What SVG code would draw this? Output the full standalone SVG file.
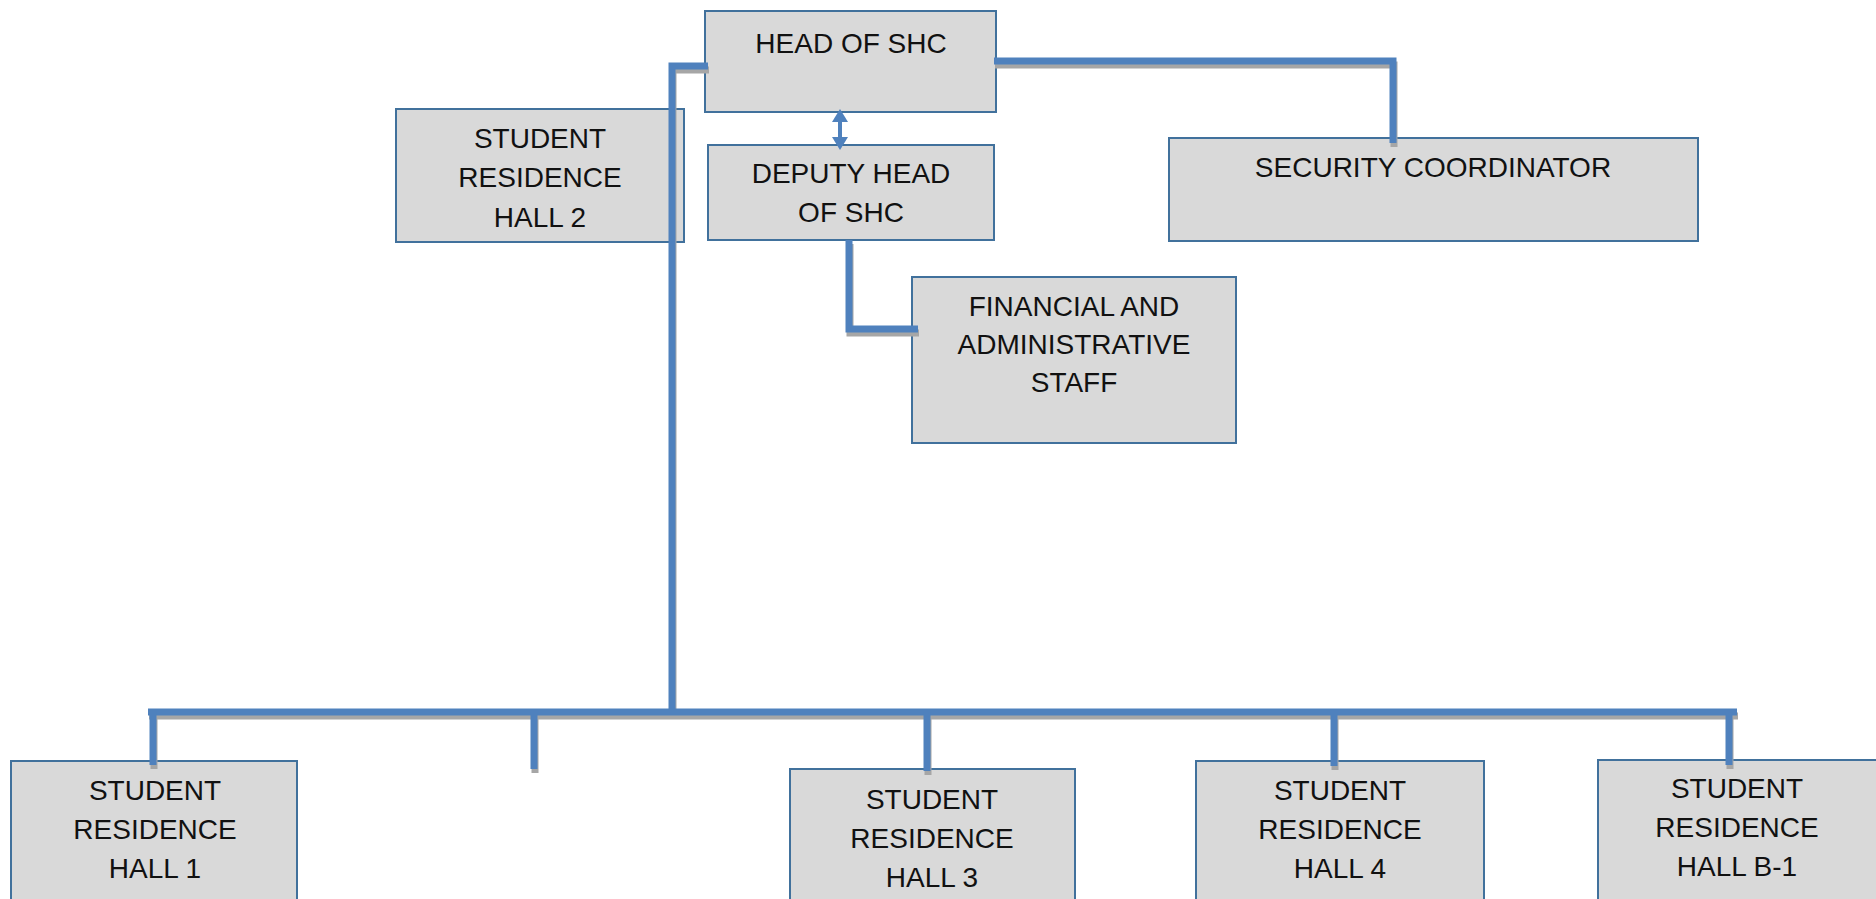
<svg xmlns="http://www.w3.org/2000/svg" xmlns:xlink="http://www.w3.org/1999/xlink" width="1876" height="899" viewBox="0 0 1876 899">
<style>
.box{fill:#D9D9D9;stroke:#41719C;stroke-width:2}
.t{font-family:"Liberation Sans",Arial,sans-serif;font-size:28px;fill:#111;text-anchor:middle}
.ln{fill:none;stroke:#4F81BD;stroke-width:7;stroke-linejoin:miter;stroke-linecap:butt}
.sh{fill:none;stroke:#A6A6A6;stroke-width:7;stroke-linejoin:miter;stroke-linecap:butt}
</style>
<defs>
<marker id="ah" markerUnits="userSpaceOnUse" markerWidth="13" markerHeight="16" viewBox="0 0 13 16" refX="0" refY="8" orient="auto-start-reverse">
<path d="M0,0 L13,8 L0,16 z" fill="#4F81BD"/>
</marker>
<path id="c1" d="M708,66 H672 V712"/>
<path id="c2" d="M148,712 H1737"/>
<path id="c3" d="M153,712 V765 M534,712 V769 M927,712 V771 M1334,712 V766 M1729,712 V765"/>
<path id="c4" d="M994,61 H1393 V143"/>
<path id="c5" d="M849,240 V329 H918"/>
</defs>
<rect width="1876" height="899" fill="#fff"/>
<g id="n-head"><rect class="box" x="705" y="11" width="291" height="101"/><text class="t" x="851" y="53">HEAD OF SHC</text></g>
<g id="n-hall2"><rect class="box" x="396" y="109" width="288" height="133"/><text class="t" x="540" y="148">STUDENT</text><text class="t" x="540" y="187">RESIDENCE</text><text class="t" x="540" y="227">HALL 2</text></g>
<g id="n-deputy"><rect class="box" x="708" y="145" width="286" height="95"/><text class="t" x="851" y="183">DEPUTY HEAD</text><text class="t" x="851" y="222">OF SHC</text></g>
<g id="n-security"><rect class="box" x="1169" y="138" width="529" height="103"/><text class="t" x="1433" y="177">SECURITY COORDINATOR</text></g>
<g id="n-fin"><rect class="box" x="912" y="277" width="324" height="166"/><text class="t" x="1074" y="316">FINANCIAL AND</text><text class="t" x="1074" y="354">ADMINISTRATIVE</text><text class="t" x="1074" y="392">STAFF</text></g>
<g id="n-hall1"><rect class="box" x="11" y="761" width="286" height="145"/><text class="t" x="155" y="800">STUDENT</text><text class="t" x="155" y="839">RESIDENCE</text><text class="t" x="155" y="878">HALL 1</text></g>
<g id="n-hall3"><rect class="box" x="790" y="769" width="285" height="140"/><text class="t" x="932" y="809">STUDENT</text><text class="t" x="932" y="848">RESIDENCE</text><text class="t" x="932" y="887">HALL 3</text></g>
<g id="n-hall4"><rect class="box" x="1196" y="761" width="288" height="145"/><text class="t" x="1340" y="800">STUDENT</text><text class="t" x="1340" y="839">RESIDENCE</text><text class="t" x="1340" y="878">HALL 4</text></g>
<g id="n-hallb1"><rect class="box" x="1598" y="760" width="280" height="145"/><text class="t" x="1737" y="798">STUDENT</text><text class="t" x="1737" y="837">RESIDENCE</text><text class="t" x="1737" y="876">HALL B-1</text></g>
<g id="connectors">
<g class="sh" transform="translate(1,4)"><use xlink:href="#c1"/><use xlink:href="#c2"/><use xlink:href="#c3"/><use xlink:href="#c4"/><use xlink:href="#c5"/></g>
<g class="ln"><use xlink:href="#c1"/><use xlink:href="#c2"/><use xlink:href="#c3"/><use xlink:href="#c4"/><use xlink:href="#c5"/></g>
<path d="M840,122 V137" stroke="#4F81BD" stroke-width="4" fill="none" marker-start="url(#ah)" marker-end="url(#ah)"/>
</g>
</svg>
